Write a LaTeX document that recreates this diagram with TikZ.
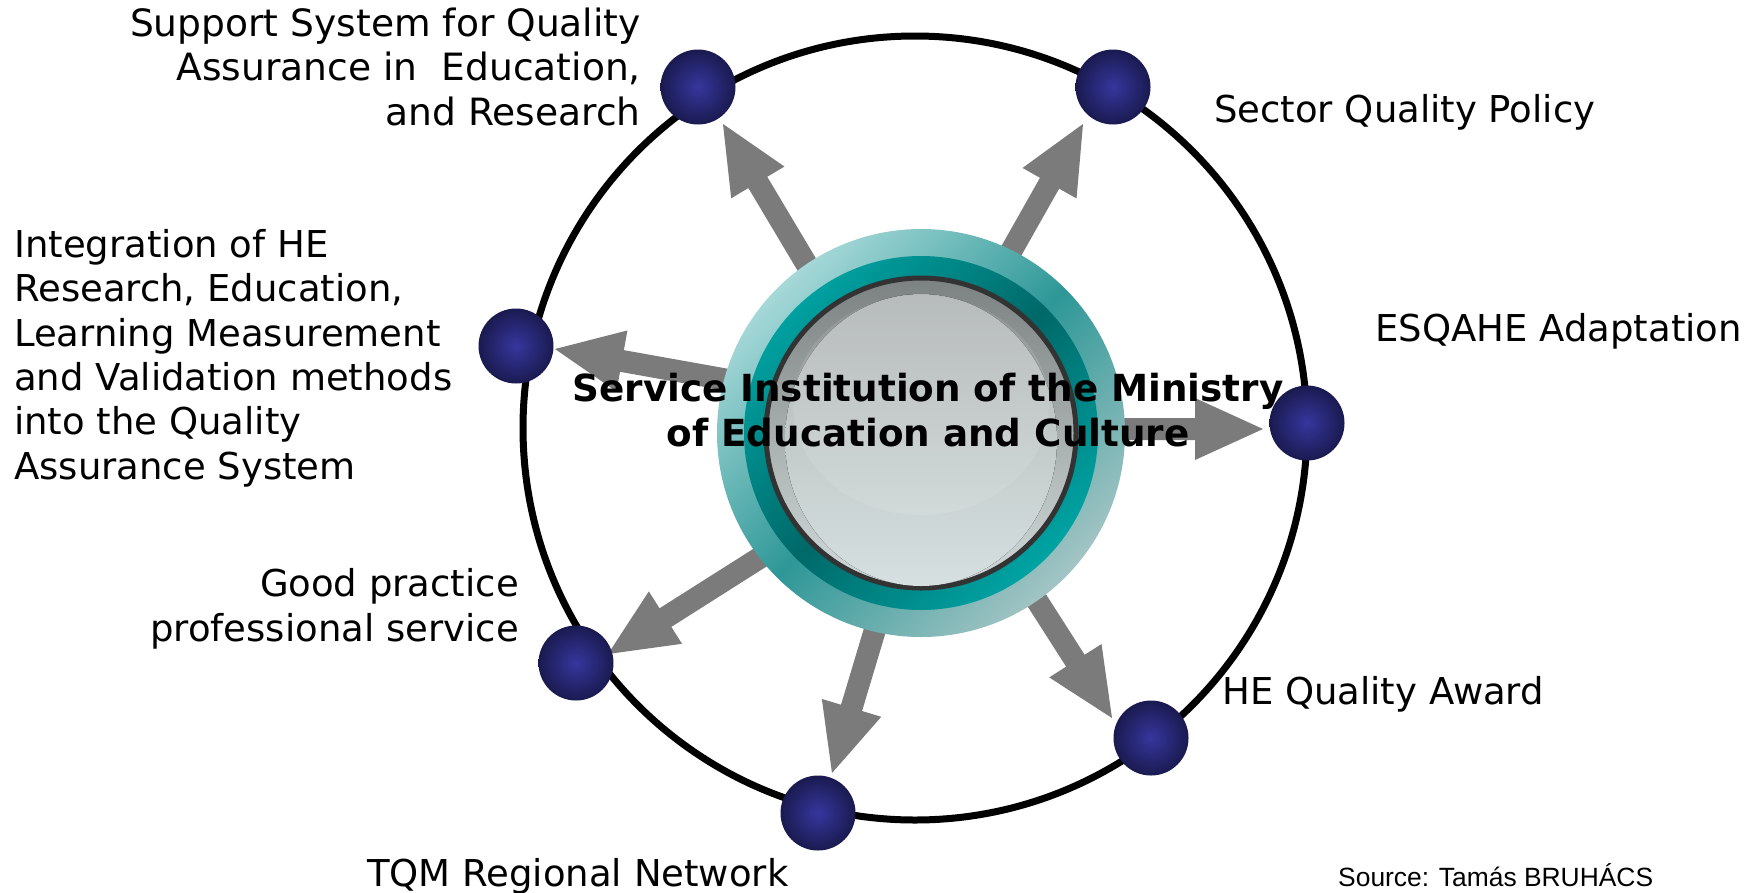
\documentclass[tikz,border=0pt]{standalone}
\usepackage{fontspec}
\setmainfont{DejaVu Sans}
\newfontfamily\srcfont{Liberation Sans}
\usetikzlibrary{calc}
\definecolor{arrowgray}{HTML}{7B7B7B}
\definecolor{dotin}{HTML}{36369E}
\definecolor{dotout}{HTML}{1A1A50}
\definecolor{tealA}{HTML}{A6D8D8}
\definecolor{tealB}{HTML}{2E9797}
\definecolor{tealC}{HTML}{A3C4C4}
\definecolor{dtealA}{HTML}{00A0A0}
\definecolor{dtealB}{HTML}{006868}
\definecolor{dtealC}{HTML}{00A3A3}
\definecolor{rimgray}{HTML}{333333}
\definecolor{grayA}{HTML}{7C8181}
\definecolor{grayB}{HTML}{D2DBDB}
\definecolor{grayC}{HTML}{B0B4B4}
\definecolor{grayD}{HTML}{D6E0E0}
\newcommand\blockarrow[2]{%
  \coordinate (hb) at ($(#2)!68pt!(#1)$);
  \fill[arrowgray] ($(#1)!11pt!90:(hb)$) -- ($(hb)!11pt!-90:(#1)$) -- ($(hb)!31pt!-90:(#1)$)
    -- (#2) -- ($(hb)!31pt!90:(#1)$) -- ($(hb)!11pt!90:(#1)$) -- ($(#1)!11pt!-90:(hb)$) -- cycle;}
\begin{document}
\begin{tikzpicture}[x=1pt,y=-1pt,
  lab/.style={inner sep=0pt, font=\fontsize{37}{44.3}\selectfont},
  dot/.style={circle, minimum size=75pt, inner sep=0pt, shading=radial, inner color=dotin, outer color=dotout}]
\useasboundingbox (0,0) rectangle (1763,892);
\fill[white] (0,0) rectangle (1763,892);
% outer ring
\node[circle, draw=black, line width=7pt, minimum size=784pt, inner sep=0pt] (ring) at (915,428) {};
% arrow end points
\coordinate (s1) at (841,322);  \coordinate (t1) at (723,124);
\coordinate (s2) at (970,324);  \coordinate (t2) at (1083,124);
\coordinate (s3) at (801,393);  \coordinate (t3) at (555,349);
\coordinate (s4) at (1000,429); \coordinate (t4) at (1263,429);
\coordinate (s5) at (802,531);  \coordinate (t5) at (608,654);
\coordinate (s6) at (898,553);  \coordinate (t6) at (832,773);
\coordinate (s7) at (988,524);  \coordinate (t7) at (1112,718);
\blockarrow{s1}{t1}
\blockarrow{s2}{t2}
\blockarrow{s3}{t3}
\blockarrow{s4}{t4}
\blockarrow{s5}{t5}
\blockarrow{s6}{t6}
\blockarrow{s7}{t7}
% dots
\node[dot] (d1) at (698,87) {};
\node[dot] (d2) at (1113,87) {};
\node[dot] (d3) at (516,346) {};
\node[dot] (d4) at (1307,423) {};
\node[dot] (d5) at (576,663) {};
\node[dot] (d6) at (818,813) {};
\node[dot] (d7) at (1151,738) {};
% central hub
\node[circle, minimum size=408pt, inner sep=0pt, top color=tealA, bottom color=tealC, middle color=tealB, shading angle=45] (hub) at (921,433) {};
\node[circle, minimum size=354pt, inner sep=0pt, top color=dtealA, bottom color=dtealC, middle color=dtealB, shading angle=45] (hubring) at (hub.center) {};
\node[circle, minimum size=310pt, inner sep=0pt, draw=rimgray, line width=5pt, top color=grayA, bottom color=grayB] (hubface) at (hub.center) {};
\fill[top color=grayC, bottom color=grayD] ($(hub.center)+(0,7)$) ellipse[x radius=136, y radius=146];
\fill[white, opacity=0.1] ($(hub.center)+(0,-28)$) ellipse[x radius=128, y radius=110];
\node[inner sep=0pt, align=center, anchor=base, font=\fontsize{37.3}{45}\selectfont\bfseries] (hubtext) at (928,446)
  {Service Institution of the Ministry\\of Education and Culture};
% labels
\node[lab, anchor=base east, align=right, font=\fontsize{37.6}{44.3}\selectfont] (l1) at (641,125) {Support System for Quality\\Assurance in~ Education,\\and Research};
\node[lab, anchor=base west] (l2) at (1214,122) {Sector Quality Policy};
\node[lab, anchor=base west, align=left] (l3) at (14,479) {Integration of HE\\Research, Education,\\Learning Measurement\\and Validation methods\\into the Quality\\Assurance System};
\node[lab, anchor=base west] (l4) at (1375,341) {ESQAHE Adaptation};
\node[lab, anchor=base east, align=right] (l5) at (519,641) {Good practice\\professional service};
\node[lab, anchor=base west] (l6) at (367,886) {TQM Regional Network};
\node[lab, anchor=base west] (l7) at (1222,704) {HE Quality Award};
\node[inner sep=0pt, anchor=base west, font=\srcfont\fontsize{26.4}{30}\selectfont] (src) at (1338,886) {Source: Tamás BRUHÁCS};
\end{tikzpicture}
\end{document}
